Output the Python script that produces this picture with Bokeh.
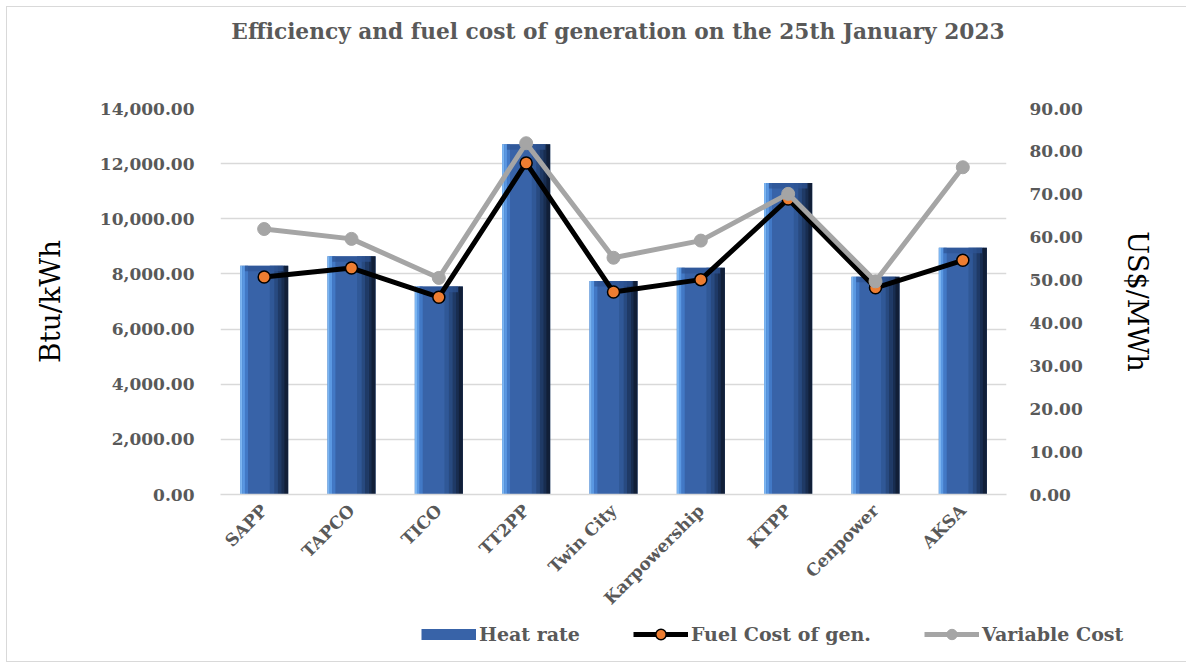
from bokeh.plotting import figure
from bokeh.layouts import column
from bokeh.models import (Range1d, LinearAxis, NumeralTickFormatter, Legend, LegendItem,
                          ColumnDataSource, FactorRange, FixedTicker, Div)
from bokeh.transform import dodge
from bokeh.embed import file_html
from bokeh.resources import INLINE
from math import pi

# ---------------- data ----------------
plants = ["SAPP", "TAPCO", "TICO", "TT2PP", "Twin City", "Karpowership", "KTPP", "Cenpower", "AKSA"]
heat_rate = [8300, 8640, 7540, 12700, 7740, 8220, 11300, 7900, 8950]          # Btu/kWh
fuel_cost = [50.7, 52.8, 46.0, 77.3, 47.2, 50.1, 68.9, 48.2, 54.6]            # US$/MWh
variable_cost = [61.9, 59.6, 50.5, 81.9, 55.2, 59.2, 70.1, 49.7, 76.3]        # US$/MWh
left_ticks = [0, 2000, 4000, 6000, 8000, 10000, 12000, 14000]
right_ticks = [0, 10, 20, 30, 40, 50, 60, 70, 80, 90]
series_names = ["Heat rate", "Fuel Cost of gen.", "Variable Cost"]
title_text = "Efficiency and fuel cost of generation on the 25th January 2023"

FONT = "DejaVu Serif"
GREY = "#595959"
ORANGE = "#ed7d31"
LGREY = "#a5a5a5"
BLUE = "#3863a8"

src = ColumnDataSource(dict(plant=plants, heat=heat_rate, fuel=fuel_cost, var=variable_cost))

# ---------- title ----------
title = Div(text=title_text, width=1172, height=40,
            styles={"font-family": FONT, "font-size": "21.7px", "font-weight": "bold",
                    "color": GREY, "text-align": "center", "padding-top": "7px",
                    "padding-left": "40px", "box-sizing": "border-box", "line-height": "26px"})

# ---------- main chart ----------
p = figure(x_range=FactorRange(*plants, range_padding=0), y_range=Range1d(0, 14000),
           width=1172, height=563, output_backend="svg", toolbar_location=None,
           min_border_left=213, min_border_right=173, min_border_top=51, min_border_bottom=126)
p.extra_y_ranges = {"cost": Range1d(0, 90)}
p.outline_line_color = None
p.background_fill_color = "white"
p.border_fill_color = "white"

p.xgrid.grid_line_color = None
p.ygrid.grid_line_color = "#d9d9d9"
p.ygrid.grid_line_width = 1.5
p.ygrid.ticker = FixedTicker(ticks=left_ticks)

# bars: base bar + shaded strips (light left edge -> dark right edge)
bar_w = 0.55
p.vbar(x="plant", top="heat", width=bar_w, source=src, fill_color=BLUE, line_color=None)
strips = [(-0.2625, 0.026, "#7cb6f2"), (-0.235, 0.031, "#5a98e2"), (-0.2025, 0.036, "#4279c6"),
          (0.09, 0.051, "#305897"), (0.135, 0.041, "#284a80"),
          (0.175, 0.041, "#1f3a66"), (0.215, 0.041, "#182d50"), (0.2525, 0.046, "#111f38")]
for off, w, c in strips:
    p.vbar(x=dodge("plant", off, range=p.x_range), top="heat", width=w, source=src,
           fill_color=c, line_color=None)
# top bevel
p.vbar(x="plant", top="heat", bottom=dodge("heat", -200), width=bar_w * 0.8, source=src,
       fill_color="#2d5494", fill_alpha=0.7, line_color=None)

# lines
p.line("plant", "fuel", source=src, y_range_name="cost", line_color="black", line_width=5)
p.scatter("plant", "fuel", source=src, y_range_name="cost", size=12,
          fill_color=ORANGE, line_color="black", line_width=1.5)
p.line("plant", "var", source=src, y_range_name="cost", line_color=LGREY, line_width=5)
p.scatter("plant", "var", source=src, y_range_name="cost", size=13,
          fill_color=LGREY, line_color=LGREY)

def style_axis(ax):
    ax.axis_line_color = None
    ax.major_tick_line_color = None
    ax.minor_tick_line_color = None
    ax.major_label_text_font = FONT
    ax.major_label_text_font_style = "bold"
    ax.major_label_text_color = GREY
    ax.major_label_text_font_size = "17px"

yl = p.yaxis[0]
style_axis(yl)
yl.ticker = FixedTicker(ticks=left_ticks)
yl.formatter = NumeralTickFormatter(format="0,0.00")
yl.major_label_standoff = 20
yl.axis_label = "Btu/kWh"
yl.axis_label_text_font = FONT
yl.axis_label_text_font_style = "normal"
yl.axis_label_text_font_size = "28px"
yl.axis_label_text_color = "black"
yl.axis_label_standoff = 30

yr = LinearAxis(y_range_name="cost", ticker=FixedTicker(ticks=right_ticks),
                formatter=NumeralTickFormatter(format="0.00"))
style_axis(yr)
yr.major_label_standoff = 17
yr.axis_label = "US$/MWh"
yr.axis_label_text_font = FONT
yr.axis_label_text_font_style = "normal"
yr.axis_label_text_font_size = "27px"
yr.axis_label_text_color = "black"
yr.axis_label_standoff = 36
p.add_layout(yr, "right")

xa = p.xaxis[0]
style_axis(xa)
xa.axis_line_color = "#d9d9d9"
xa.axis_line_width = 1.5
xa.major_label_orientation = pi / 4
xa.major_label_standoff = 7

# ---------- legend strip (same data, drawn outside this strip's visible range) ----------
pl = figure(width=1172, height=41, output_backend="svg", toolbar_location=None,
            x_range=FactorRange(*plants, range_padding=0), y_range=Range1d(-2, -1),
            x_axis_type=None, y_axis_type=None, min_border=0, outline_line_color=None)
pl.frame_align = False
pl.xgrid.grid_line_color = None
pl.ygrid.grid_line_color = None
lb = pl.line("plant", "heat", source=src, line_color=BLUE, line_width=11)
l1 = pl.line("plant", "fuel", source=src, line_color="black", line_width=5)
s1 = pl.scatter("plant", "fuel", source=src, size=12, fill_color=ORANGE, line_color="black", line_width=1.5)
l2 = pl.line("plant", "var", source=src, line_color=LGREY, line_width=5)
s2 = pl.scatter("plant", "var", source=src, size=13, fill_color=LGREY, line_color=LGREY)

legend = Legend(items=[
    LegendItem(label=series_names[0], renderers=[lb]),
    LegendItem(label=series_names[1], renderers=[l1, s1]),
    LegendItem(label=series_names[2], renderers=[l2, s2]),
], orientation="horizontal", location=(414, 14))
legend.label_text_font = FONT
legend.label_text_font_style = "bold"
legend.label_text_color = GREY
legend.label_text_font_size = "19px"
legend.glyph_width = 55
legend.glyph_height = 26
legend.label_standoff = 3
legend.spacing = 53
legend.padding = 0
legend.margin = 0
legend.border_line_color = None
legend.background_fill_alpha = 0
pl.add_layout(legend)

layout = column(title, p, pl, spacing=0,
                styles={"border": "1px solid #d9d9d9", "margin-left": "6px", "margin-top": "6px"})

open("out.html", "w").write(file_html(layout, INLINE))
